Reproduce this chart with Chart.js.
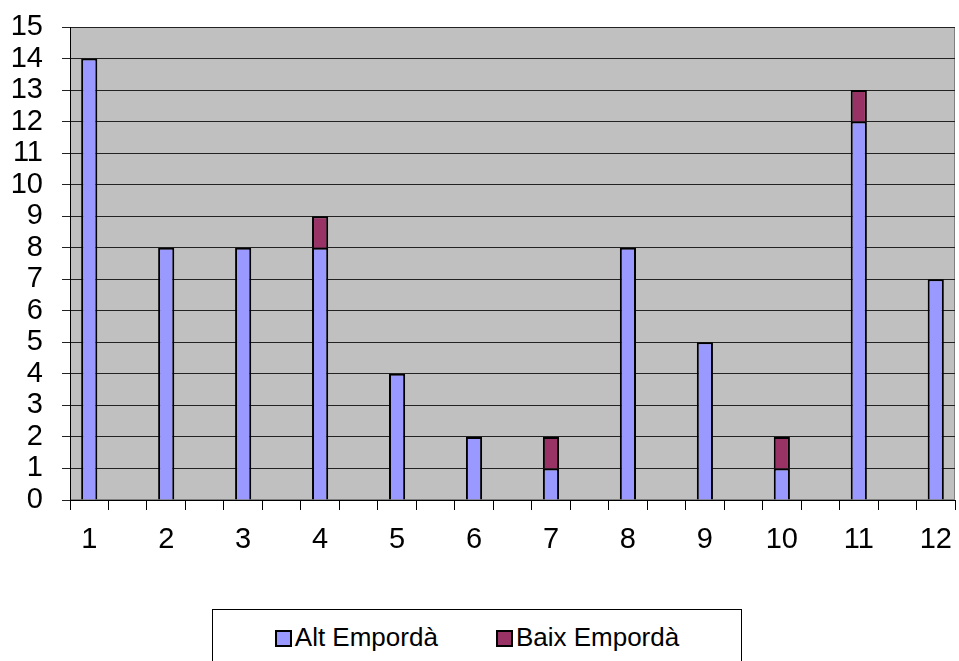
<!DOCTYPE html>
<html>
<head>
<meta charset="utf-8">
<script src="https://cdn.jsdelivr.net/npm/chart.js@4"></script>
<style>
  body { margin: 0; background: #fff; }
  #wrap { position: relative; width: 959px; height: 661px; overflow: hidden; }
  #legend { position: absolute; left: 212px; top: 609px; width: 530px; height: 70px;
            box-sizing: border-box; border: 1px solid #000; background: #fff;
            font-family: "Liberation Sans", Arial, sans-serif; font-size: 26px; color: #000; }
  #legend ul { list-style: none; margin: 0; padding: 0; display: flex; justify-content: center; gap: 58px; padding-top: 12px; }
  #legend li { display: flex; align-items: center; }
  #legend .box { width: 17px; height: 17px; box-sizing: border-box; border: 2px solid #000; margin-right: 3px; margin-top: 2px; }
</style>
</head>
<body>
<div id="wrap">
  <canvas id="myChart" width="959" height="661"></canvas>
  <div id="legend"></div>
</div>
<script>
var categories = [1, 2, 3, 4, 5, 6, 7, 8, 9, 10, 11, 12];
var altEmporda = [14, 8, 8, 8, 4, 2, 1, 8, 5, 1, 12, 7];
var baixEmporda = [0, 0, 0, 1, 0, 0, 1, 0, 0, 1, 1, 0];
var yTicks = [0, 1, 2, 3, 4, 5, 6, 7, 8, 9, 10, 11, 12, 13, 14, 15];

// every category is followed by an empty slot, like the original
var labels = [];
var altData = [];
var baixData = [];
for (var i = 0; i < categories.length; i++) {
    labels.push(String(categories[i]));
    altData.push(altEmporda[i] || null);
    baixData.push(baixEmporda[i] || null);
    if (i < categories.length - 1) {
        labels.push('');
        altData.push(null);
        baixData.push(null);
    }
}

var plotBg = {
    id: 'plotBg',
    beforeDraw: function(chart) {
        var a = chart.chartArea, c = chart.ctx;
        c.save();
        c.fillStyle = '#c0c0c0';
        c.fillRect(a.left, a.top, a.right - a.left, a.bottom - a.top);
        c.strokeStyle = '#808080';
        c.lineWidth = 1;
        c.strokeRect(a.left + 0.5, a.top + 0.5, a.right - a.left - 1, a.bottom - a.top - 1);
        c.restore();
    }
};

var htmlLegend = {
    id: 'htmlLegend',
    afterUpdate: function(chart) {
        var box = document.getElementById('legend');
        var html = '<ul>';
        chart.data.datasets.forEach(function(ds) {
            html += '<li><span class="box" style="background:' + ds.backgroundColor + '"></span>' + ds.label + '</li>';
        });
        box.innerHTML = html + '</ul>';
    }
};

var context = document.getElementById('myChart').getContext('2d');
var myChart = new Chart(context, {
    type: 'bar',
    data: {
        labels: labels,
        datasets: [{
            label: 'Alt Empordà',
            data: altData,
            backgroundColor: '#9999ff',
            borderColor: '#000',
            borderWidth: 2
        }, {
            label: 'Baix Empordà',
            data: baixData,
            backgroundColor: '#993366',
            borderColor: '#000',
            borderWidth: 2
        }]
    },
    options: {
        responsive: false,
        animation: false,
        layout: { padding: { top: 27, right: 4, left: 0, bottom: 0 } },
        datasets: { bar: { barPercentage: 0.42, categoryPercentage: 1 } },
        plugins: {
            legend: { display: false },
            tooltip: { enabled: false }
        },
        scales: {
            x: {
                stacked: true,
                offset: true,
                afterFit: function(s) { s.height = 161; s.paddingLeft = 0; s.paddingRight = 0; },
                grid: { offset: true, drawOnChartArea: false, drawTicks: true, tickLength: 10, color: '#000' },
                border: { display: true, color: '#000', width: 1 },
                ticks: {
                    autoSkip: false, maxRotation: 0, padding: 13, color: '#000',
                    font: { family: 'Liberation Sans', size: 29 }
                }
            },
            y: {
                stacked: true,
                min: yTicks[0],
                max: yTicks[yTicks.length - 1],
                afterFit: function(s) { s.width = 70; s.paddingTop = 0; s.paddingBottom = 0; },
                afterBuildTicks: function(s) { s.ticks = yTicks.map(function(v) { return { value: v }; }); },
                grid: { color: '#222', tickLength: 8 },
                border: { display: true, color: '#000', width: 1 },
                ticks: {
                    autoSkip: false, stepSize: 1, padding: 19, color: '#000',
                    font: { family: 'Liberation Sans', size: 29 }
                }
            }
        }
    },
    plugins: [plotBg, htmlLegend]
});
</script>
</body>
</html>
